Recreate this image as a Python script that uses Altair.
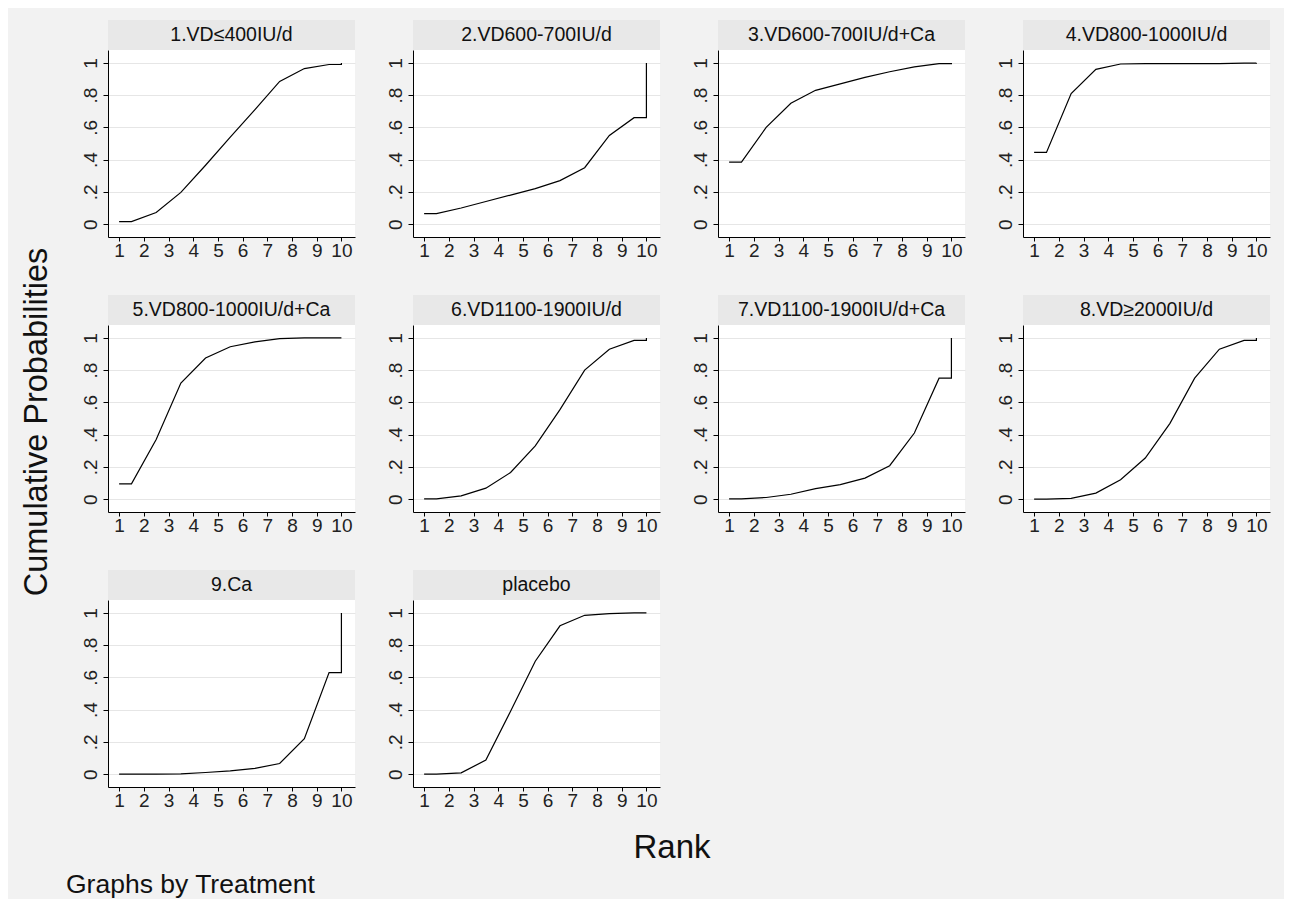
import altair as alt
import pandas as pd

treatments = ["1.VD≤400IU/d", "2.VD600-700IU/d", "3.VD600-700IU/d+Ca", "4.VD800-1000IU/d",
              "5.VD800-1000IU/d+Ca", "6.VD1100-1900IU/d", "7.VD1100-1900IU/d+Ca", "8.VD≥2000IU/d",
              "9.Ca", "placebo"]
ranks = [1, 2, 3, 4, 5, 6, 7, 8, 9, 10]

cum_1 = [0.015, 0.072, 0.197, 0.365, 0.54, 0.71, 0.885, 0.965, 0.99, 1.0]
cum_2 = [0.065, 0.10, 0.14, 0.18, 0.22, 0.27, 0.35, 0.55, 0.66, 1.0]
cum_3 = [0.385, 0.60, 0.75, 0.83, 0.87, 0.91, 0.945, 0.975, 0.995, 1.0]
cum_4 = [0.445, 0.81, 0.96, 0.993, 0.995, 0.995, 0.995, 0.995, 0.998, 1.0]
cum_5 = [0.095, 0.37, 0.72, 0.875, 0.945, 0.975, 0.995, 1.0, 1.0, 1.0]
cum_6 = [0.002, 0.02, 0.068, 0.165, 0.33, 0.555, 0.80, 0.93, 0.985, 1.0]
cum_7 = [0.002, 0.01, 0.03, 0.065, 0.09, 0.13, 0.207, 0.41, 0.75, 1.0]
cum_8 = [0.0, 0.005, 0.037, 0.12, 0.255, 0.47, 0.75, 0.93, 0.985, 1.0]
cum_9 = [0.0, 0.0, 0.002, 0.01, 0.02, 0.035, 0.066, 0.22, 0.63, 1.0]
cum_placebo = [0.0, 0.008, 0.087, 0.39, 0.70, 0.92, 0.985, 0.996, 1.0, 1.0]

series = [cum_1, cum_2, cum_3, cum_4, cum_5, cum_6, cum_7, cum_8, cum_9, cum_placebo]

W, H = 247, 187
STRIP = 30
XEXT, YEXT = 28, 27
FONT = "Liberation Sans"
BG = "#f2f2f2"


def plot_points(vals):
    # rank 1 held flat to 1.5, rank k plotted at k+0.5, final jump at 10
    xs = [ranks[0]] + [r + 0.5 for r in ranks[:-1]] + [ranks[-1], ranks[-1]]
    ys = [vals[0]] + vals[:-1] + [vals[-2], vals[-1]]
    return pd.DataFrame({"x": xs, "y": ys, "i": list(range(len(xs)))})


def panel(name, vals):
    df = plot_points(vals)
    line = alt.Chart(df).mark_line(color="black", strokeWidth=1.2).encode(
        x=alt.X("x:Q", scale=alt.Scale(domain=[0.55, 10.55], nice=False, zero=False),
                axis=alt.Axis(values=ranks, title=None, grid=False, tickSize=4, labelPadding=0,
                              labelFontSize=19, minExtent=XEXT, maxExtent=XEXT,
                              domainColor="black", tickColor="black", labelColor="#222")),
        y=alt.Y("y:Q", scale=alt.Scale(domain=[-0.08, 1.08], nice=False, zero=False),
                axis=alt.Axis(values=[0, 0.2, 0.4, 0.6, 0.8, 1], title=None, grid=True,
                              gridColor="#e6e6e6", tickSize=5, labelPadding=3, labelFontSize=19,
                              labelAngle=270, labelAlign="center", labelBaseline="bottom",
                              minExtent=YEXT, maxExtent=YEXT,
                              labelExpr="datum.value == 0 ? '0' : datum.value == 1 ? '1' : replace(format(datum.value, '.1f'), '0.', '.')",
                              domainColor="black", tickColor="black", labelColor="#222")),
        order="i:Q",
    )
    sdata = alt.Data(values=[{"t": name}])
    strip_rect = alt.Chart(sdata).mark_rect(fill="#e8e8e8", clip=False).encode(
        x=alt.value(0), x2=alt.value(W), y=alt.value(-STRIP), y2=alt.value(0))
    strip_text = alt.Chart(sdata).mark_text(fontSize=19.5, font=FONT, color="#111", clip=False,
                                            baseline="middle").encode(
        x=alt.value(W / 2), y=alt.value(-STRIP / 2), text="t:N")
    return alt.layer(strip_rect, strip_text, line).properties(
        width=W, height=H, view=alt.ViewBackground(fill="white", strokeWidth=0))


panels = [panel(n, v) for n, v in zip(treatments, series)]
rows = [alt.hconcat(*panels[i:i + 4], spacing=31) for i in range(0, len(panels), 4)]
grid = alt.vconcat(*rows, spacing=30)

# grid origin is the first plot area (below the first strip)
GRID_H = 3 * (STRIP + H + XEXT) + 2 * 30 - STRIP

ytitle = alt.Chart(alt.Data(values=[{"t": "Cumulative Probabilities"}])).mark_text(
    angle=270, fontSize=32.5, font=FONT, color="#111", baseline="middle").encode(
    x=alt.value(29), y=alt.value(372), text="t:N").properties(
    width=58, height=GRID_H, view=alt.ViewBackground(fill=BG, strokeWidth=0))

TOTAL_W = 58 + 15 + 4 * (YEXT + W) + 3 * 31
bdata_rank = alt.Data(values=[{"t": "Rank"}])
bdata_note = alt.Data(values=[{"t": "Graphs by Treatment"}])
rank_txt = alt.Chart(bdata_rank).mark_text(fontSize=33, font=FONT, color="#111", baseline="middle").encode(
    x=alt.value(664), y=alt.value(33), text="t:N")
note_txt = alt.Chart(bdata_note).mark_text(fontSize=26.5, font=FONT, color="#111", align="left",
                                           baseline="middle").encode(
    x=alt.value(58), y=alt.value(70), text="t:N")
bottom = alt.layer(rank_txt, note_txt).properties(
    width=TOTAL_W, height=82, view=alt.ViewBackground(fill=BG, strokeWidth=0))

chart = alt.vconcat(alt.hconcat(ytitle, grid, spacing=15), bottom, spacing=0).properties(
    padding={"left": 0, "top": 12, "right": 14, "bottom": 0},
    background=BG,
).configure(font=FONT).configure_view(strokeWidth=0)

chart.save("out.html", embed_options={"renderer": "svg", "actions": False})
